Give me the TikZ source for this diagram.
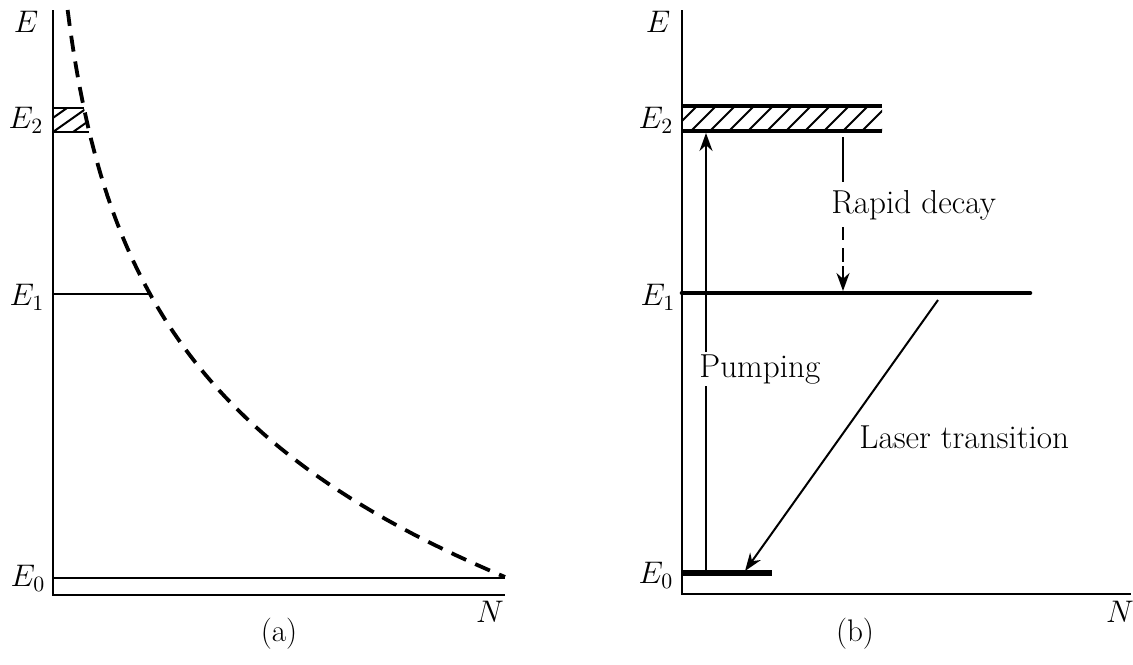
\RequirePackage{fix-cm}
\documentclass[tikz,border=0pt]{standalone}
\usetikzlibrary{arrows.meta}

\tikzset{
	axisline/.style={line width=1pt},
	thinlevel/.style={line width=1pt},
	thicklevel/.style={line width=2.3pt},
	tip/.style={-{Stealth[length=9pt,width=6.5pt]}},
	lbl/.style={inner sep=1pt},
	boxlbl/.style={inner sep=1pt,fill=white,anchor=base west,font=\fontsize{16.6}{19}\selectfont},
}

\begin{document}
\begin{tikzpicture}[x=0.5pt,y=-0.5pt,every node/.style={font=\fontsize{15.6}{18}\selectfont}]
	
	\useasboundingbox (0,0) rectangle (1133,664);
	
	% (a) population curve
	{
		\draw[axisline] (53,10) -- (53,595) -- (505,595);
		
		\draw[thinlevel] (53,578) -- (505,578);
		\draw[thinlevel] (53,294) -- (150,294);
		
		\draw[thinlevel] (53,108) -- (84,108);
		\draw[thinlevel] (53,132) -- (89,132);
		\begin{scope}
			\clip (53,108) -- (84,108) -- (89,132) -- (53,132) -- cycle;
			\foreach \i in {33,53,73} {
				\draw[thinlevel] (\i,132) -- (\i+34,108);
			}
		\end{scope}
		
		\draw[line width=1.9pt,dash pattern=on 8pt off 5pt]
			plot[domain=10:577,samples=80,variable=\t] ({43+462*exp(-(577-\t)/193.5)},\t);
		
		\node[lbl] (Ea) at (26,22) {$E$};
		\node[lbl] (E2a) at (26,120) {$E_2$};
		\node[lbl] (E1a) at (27,297) {$E_1$};
		\node[lbl] (E0a) at (28,578) {$E_0$};
		\node[lbl] (Na) at (490,612) {$N$};
		\node[lbl] (capa) at (279,634) {(a)};
	}
	
	% (b) three level scheme
	{
		\draw[axisline] (682,10) -- (682,594) -- (1131,594);
		
		\draw[thicklevel] (682,106) -- (882,106);
		\draw[thicklevel] (682,131) -- (882,131);
		\begin{scope}
			\clip (682,106) rectangle (882,131);
			\foreach \i in {0,...,11} {
				\draw[thinlevel] (672+\i*19,131) -- (697+\i*19,106);
			}
		\end{scope}
		
		\draw[thicklevel,line cap=round] (682,293) -- (1030,293);
		\draw[line width=2.6pt] (682,573) -- (772,573);
		
		\coordinate (pumpbot) at (706,571);
		\coordinate (pumptop) at (706,133);
		\coordinate (decaytop) at (843,137);
		\coordinate (decaybot) at (843,291);
		\coordinate (laserstart) at (938,300);
		\coordinate (laserend) at (745,571);
		
		\draw[thinlevel,tip] (pumpbot) -- (pumptop);
		\draw[thinlevel,tip,dash pattern=on 22.5pt off 22.5pt on 6.5pt off 4pt on 7pt off 2pt on 40pt]
			(decaytop) -- (decaybot);
		\draw[thinlevel,tip] (laserstart) -- (laserend);
		
		\node[boxlbl] (pump) at (697,377) {Pumping};
		\node[boxlbl] (decay) at (829,213) {Rapid decay};
		\node[boxlbl] (laser) at (857,448) {Laser transition};
		
		\node[lbl] (Eb) at (658,22) {$E$};
		\node[lbl] (E2b) at (656,120) {$E_2$};
		\node[lbl] (E1b) at (658,297) {$E_1$};
		\node[lbl] (E0b) at (656,575) {$E_0$};
		\node[lbl] (Nb) at (1120,612) {$N$};
		\node[lbl] (capb) at (855,634) {(b)};
	}
	
\end{tikzpicture}
\end{document}
